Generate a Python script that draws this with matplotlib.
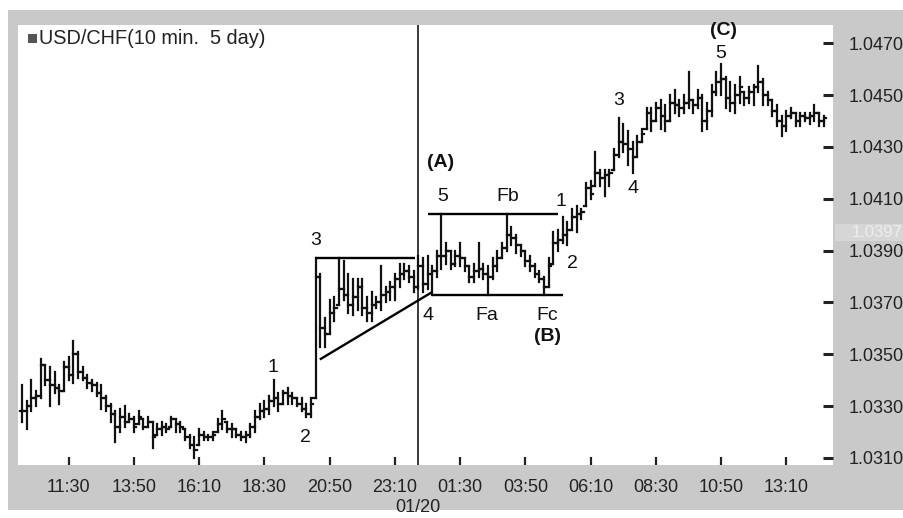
import matplotlib
matplotlib.use("Agg")
import matplotlib.pyplot as plt
import numpy as np
from matplotlib.collections import LineCollection
from matplotlib.patches import Rectangle
import matplotlib.transforms as mtransforms

plt.rcParams['font.family'] = ['Liberation Sans', 'DejaVu Sans']

# ---------------- data (10-minute bars, USD/CHF) ----------------
high = [
    1.0338, 1.0332, 1.0340, 1.0336, 1.0348, 1.0346, 1.0345, 1.0343, 1.0338, 1.0347,
    1.0349, 1.0355, 1.0351, 1.0345, 1.0342, 1.0340, 1.0339, 1.0338, 1.0334, 1.0331,
    1.0328, 1.0329, 1.0330, 1.0327, 1.0326, 1.0328, 1.0325, 1.0326, 1.0324, 1.0323,
    1.0324, 1.0323, 1.0326, 1.0325, 1.0324,
    1.0321, 1.0319, 1.0318, 1.0321, 1.0320, 1.0319, 1.0320, 1.0325, 1.0328, 1.0324,
    1.0323, 1.0321, 1.0320, 1.0320, 1.0323, 1.0328, 1.0331, 1.0332, 1.0334, 1.0340,
    1.0335, 1.0336, 1.0337, 1.0335, 1.0333, 1.0333, 1.0331, 1.0333, 1.0387, 1.0381,
    1.0364, 1.0371, 1.0372, 1.0387, 1.0386,
    1.0381, 1.0379, 1.0379, 1.0379, 1.0372, 1.0374, 1.0372, 1.0384, 1.0376, 1.0378,
    1.0381, 1.0385, 1.0385, 1.0384, 1.0382, 1.0388, 1.0387, 1.0388, 1.0384, 1.0390,
    1.0404, 1.0393, 1.0390, 1.0390, 1.0393, 1.0387, 1.0384, 1.0385, 1.0393, 1.0385,
    1.0384, 1.0387, 1.0390,
    1.0393, 1.0404, 1.0399, 1.0396, 1.0392, 1.0390, 1.0388, 1.0385, 1.0382, 1.0380,
    1.0387, 1.0397, 1.0398, 1.0403, 1.0401, 1.0406, 1.0407, 1.0406, 1.0416, 1.0417,
    1.0428, 1.0421, 1.0421, 1.0421, 1.0429, 1.0441, 1.0439, 1.0436, 1.0432, 1.0434,
    1.0437, 1.0445, 1.0445, 1.0447, 1.0448,
    1.0446, 1.0450, 1.0452, 1.0448, 1.0450, 1.0459, 1.0448, 1.0452, 1.0450, 1.0447,
    1.0454, 1.0459, 1.0462, 1.0457, 1.0455, 1.0454, 1.0457, 1.0451, 1.0453, 1.0454,
    1.0461, 1.0456, 1.0451, 1.0448, 1.0446, 1.0442, 1.0444, 1.0445, 1.0443, 1.0443,
    1.0443, 1.0443, 1.0446, 1.0443, 1.0442,
]
low = [
    1.0324, 1.0321, 1.0328, 1.0330, 1.0333, 1.0338, 1.0330, 1.0335, 1.0331, 1.0336,
    1.0340, 1.0339, 1.0341, 1.0340, 1.0337, 1.0336, 1.0334, 1.0329, 1.0328, 1.0324,
    1.0316, 1.0320, 1.0322, 1.0324, 1.0320, 1.0323, 1.0321, 1.0322, 1.0314, 1.0319,
    1.0319, 1.0320, 1.0322, 1.0320, 1.0320,
    1.0317, 1.0314, 1.0310, 1.0315, 1.0317, 1.0317, 1.0317, 1.0320, 1.0321, 1.0320,
    1.0318, 1.0318, 1.0317, 1.0316, 1.0318, 1.0320, 1.0325, 1.0326, 1.0327, 1.0330,
    1.0328, 1.0331, 1.0331, 1.0331, 1.0330, 1.0328, 1.0326, 1.0326, 1.0333, 1.0353,
    1.0353, 1.0358, 1.0363, 1.0369, 1.0371,
    1.0366, 1.0365, 1.0367, 1.0365, 1.0363, 1.0363, 1.0368, 1.0367, 1.0370, 1.0371,
    1.0371, 1.0376, 1.0379, 1.0378, 1.0374, 1.0375, 1.0374, 1.0375, 1.0373, 1.0380,
    1.0383, 1.0385, 1.0383, 1.0384, 1.0384, 1.0382, 1.0378, 1.0378, 1.0380, 1.0379,
    1.0373, 1.0379, 1.0382,
    1.0387, 1.0390, 1.0392, 1.0389, 1.0388, 1.0384, 1.0382, 1.0380, 1.0378, 1.0373,
    1.0376, 1.0385, 1.0390, 1.0393, 1.0392, 1.0398, 1.0397, 1.0402, 1.0407, 1.0410,
    1.0415, 1.0415, 1.0411, 1.0415, 1.0421, 1.0426, 1.0428, 1.0423, 1.0420, 1.0426,
    1.0432, 1.0437, 1.0436, 1.0440, 1.0437,
    1.0436, 1.0440, 1.0443, 1.0442, 1.0443, 1.0445, 1.0443, 1.0445, 1.0436, 1.0437,
    1.0442, 1.0450, 1.0450, 1.0445, 1.0444, 1.0443, 1.0447, 1.0446, 1.0447, 1.0446,
    1.0451, 1.0446, 1.0446, 1.0442, 1.0438, 1.0434, 1.0436, 1.0441, 1.0438, 1.0438,
    1.0440, 1.0439, 1.0440, 1.0438, 1.0438,
]
close = [
    1.0328, 1.0330, 1.0333, 1.0334, 1.0346, 1.0340, 1.0338, 1.0337, 1.0336, 1.0345,
    1.0342, 1.0350, 1.0343, 1.0341, 1.0339, 1.0338, 1.0335, 1.0333, 1.0330, 1.0327,
    1.0322, 1.0326, 1.0324, 1.0325, 1.0322, 1.0326, 1.0322, 1.0324, 1.0318, 1.0321,
    1.0322, 1.0321, 1.0325, 1.0323, 1.0322,
    1.0318, 1.0315, 1.0313, 1.0319, 1.0318, 1.0318, 1.0319, 1.0323, 1.0325, 1.0321,
    1.0321, 1.0319, 1.0318, 1.0319, 1.0322, 1.0326, 1.0328, 1.0329, 1.0332, 1.0333,
    1.0331, 1.0335, 1.0334, 1.0333, 1.0331, 1.0329, 1.0327, 1.0331, 1.0380, 1.0360,
    1.0358, 1.0366, 1.0368, 1.0375, 1.0373,
    1.0369, 1.0372, 1.0376, 1.0368, 1.0366, 1.0369, 1.0370, 1.0373, 1.0374, 1.0376,
    1.0379, 1.0381, 1.0382, 1.0380, 1.0376, 1.0384, 1.0377, 1.0381, 1.0382, 1.0388,
    1.0388, 1.0390, 1.0385, 1.0388, 1.0387, 1.0384, 1.0380, 1.0382, 1.0383, 1.0381,
    1.0380, 1.0384, 1.0387,
    1.0391, 1.0396, 1.0395, 1.0392, 1.0390, 1.0386, 1.0384, 1.0381, 1.0379, 1.0376,
    1.0384, 1.0393, 1.0394, 1.0396, 1.0398, 1.0403, 1.0404, 1.0405, 1.0414, 1.0412,
    1.0420, 1.0418, 1.0419, 1.0420, 1.0427, 1.0432, 1.0431, 1.0429, 1.0426, 1.0432,
    1.0435, 1.0443, 1.0440, 1.0445, 1.0442,
    1.0440, 1.0447, 1.0446, 1.0445, 1.0447, 1.0448, 1.0446, 1.0449, 1.0440, 1.0444,
    1.0451, 1.0455, 1.0456, 1.0449, 1.0447, 1.0450, 1.0453, 1.0449, 1.0451, 1.0453,
    1.0455, 1.0450, 1.0448, 1.0444, 1.0440, 1.0438, 1.0442, 1.0443, 1.0440, 1.0442,
    1.0441, 1.0442, 1.0443, 1.0440, 1.0441,
]

x_tick_bars = [10, 24, 38, 52, 66, 80, 94, 108, 122, 136, 150, 164]
x_tick_labels = ["11:30", "13:50", "16:10", "18:30", "20:50", "23:10",
                 "01:30", "03:50", "06:10", "08:30", "10:50", "13:10"]
y_ticks = [1.0310, 1.0330, 1.0350, 1.0370, 1.0390, 1.0410, 1.0430, 1.0450, 1.0470]
day_break_bar = 85
day_label = "01/20"
last_price = 1.0397

# annotation lines: (x0, y0, x1, y1) in bar index / price
box_top = (62.9, 1.0387, 84.3, 1.0387)
tri_bottom = (63.9, 1.0348, 88.0, 1.0374)
chan_top = (87.0, 1.0404, 115.0, 1.0404)
chan_bottom = (88.0, 1.0373, 116.0, 1.0373)

# wave labels: (text, bar, price, bold)
labels = [
    ("1", 53.9, 1.0345, False), ("2", 60.9, 1.0318, False), ("3", 62.9, 1.0394, False),
    ("4", 87.1, 1.0365, False), ("5", 90.3, 1.0411, False), ("(A)", 89.9, 1.0424, True),
    ("Fb", 104.3, 1.0411, False), ("Fa", 99.8, 1.0365, False), ("Fc", 112.7, 1.0365, False),
    ("(B)", 112.7, 1.0357, True), ("1", 115.7, 1.0409, False), ("2", 118.2, 1.0385, False),
    ("3", 128.1, 1.0448, False), ("4", 131.1, 1.0414, False), ("5", 149.8, 1.0466, False),
    ("(C)", 150.4, 1.0475, True),
]

# ---------------- figure ----------------
W, H = 904, 518
fig = plt.figure(figsize=(W / 100, H / 100), dpi=100, facecolor='white')
frame = Rectangle((8 / W, 1 - 510 / H), (W - 8) / W, 500 / H,
                  transform=fig.transFigure, facecolor='#c9c9c9',
                  edgecolor='none', zorder=-5)
fig.add_artist(frame)
ax = fig.add_axes([18 / W, 1 - 465 / H, (833 - 18) / W, 440 / H])
ax.set_zorder(1)
ax.set_facecolor('white')
for s in ax.spines.values():
    s.set_visible(False)

n = len(close)
idx = np.arange(n)
hi = np.array(high)
lo = np.array(low)
cl = np.array(close)
op = np.clip(np.r_[cl[0], cl[:-1]], lo, hi)
w = 0.5
segs = []
for i in range(n):
    segs.append([(idx[i], lo[i]), (idx[i], hi[i])])
    segs.append([(idx[i] - w, op[i]), (idx[i], op[i])])
    segs.append([(idx[i], cl[i]), (idx[i] + w, cl[i])])
ax.add_collection(LineCollection(segs, colors='#111111', linewidths=1.6,
                                 capstyle='projecting', zorder=3))

ax.set_xlim(-0.86, 174.0)
ax.set_ylim(1.03073, 1.04770)

# day separator
ax.axvline(day_break_bar, color='#2a2a2a', lw=1.3, zorder=2)

# annotation lines
for (x0, y0, x1, y1) in [box_top, tri_bottom, chan_top, chan_bottom]:
    ax.plot([x0, x1], [y0, y1], color='black', lw=1.7, zorder=4, solid_capstyle='butt')

for (t, bx, py, bold) in labels:
    ax.text(bx, py, t, ha='center', va='center', fontsize=14,
            fontweight='bold' if bold else 'normal', color='#111111', zorder=5)

# axes ticks
ax.set_xticks(x_tick_bars)
ax.set_xticklabels(x_tick_labels)
ax.tick_params(axis='x', direction='in', length=6, width=1.6, pad=10,
               labelsize=13, colors='#222222')
ax.yaxis.tick_right()
ax.set_yticks(y_ticks)
ax.set_yticklabels([f"{v:.4f}" for v in y_ticks])
ax.tick_params(axis='y', direction='in', length=7, width=2.2, pad=11,
               labelsize=13, colors='#222222')

# date label under day break
trans = mtransforms.blended_transform_factory(ax.transData, ax.transAxes)
ax.text(day_break_bar, -0.096, day_label, transform=trans, ha='center', va='center',
        fontsize=13, color='#222222', clip_on=False)

# last price marker in right panel
trans_y = mtransforms.blended_transform_factory(ax.transAxes, ax.transData)
ax.add_patch(Rectangle((1.003, last_price - 0.00032), 0.088, 0.00064, transform=trans_y,
                       facecolor='#d6d6d6', edgecolor='none', clip_on=False, zorder=1))
ax.text(1.085, last_price, f"{last_price:.4f}", transform=trans_y, ha='right', va='center',
        fontsize=12, color='#ededed', clip_on=False)

# title / legend
fig.add_artist(Rectangle((28 / W, 1 - 43 / H), 9 / W, 9 / H, transform=fig.transFigure,
                         facecolor='#555555', edgecolor='none', zorder=5))
fig.text(39 / W, 1 - 38 / H, "USD/CHF(10 min.  5 day)", ha='left', va='center',
         fontsize=14.3, color='#222222', zorder=6)

fig.savefig("out.png", dpi=100, facecolor=fig.get_facecolor())
